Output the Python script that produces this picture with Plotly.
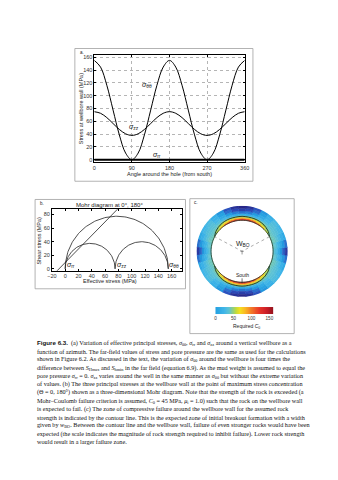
import numpy as np
import plotly.graph_objects as go

W, H = 338, 480
def fx(x): return x / W
def fy(y): return 1 - y / H

SANS = "Liberation Sans, Arial, sans-serif"
SERIF = "Liberation Serif, Times New Roman, serif"

# ---------------- Panel a: stresses around the wellbore wall ----------------
angle_deg = [0, 15, 30, 45, 60, 75, 90, 105, 120, 135, 150, 165, 180,
             195, 210, 225, 240, 255, 270, 285, 300, 315, 330, 345, 360]
sigma_tt = [155, 144.6, 116.3, 77.5, 38.8, 10.4, 0, 10.4, 38.8, 77.5, 116.3, 144.6, 155,
            144.6, 116.3, 77.5, 38.8, 10.4, 0, 10.4, 38.8, 77.5, 116.3, 144.6, 155]
sigma_zz = [75, 72.5, 65.8, 56.5, 47.3, 40.5, 38, 40.5, 47.3, 56.5, 65.8, 72.5, 75,
            72.5, 65.8, 56.5, 47.3, 40.5, 38, 40.5, 47.3, 56.5, 65.8, 72.5, 75]
sigma_rr = [0, 0, 0, 0, 0, 0, 0, 0, 0, 0, 0, 0, 0,
            0, 0, 0, 0, 0, 0, 0, 0, 0, 0, 0, 0]
a_xticks = [0, 90, 180, 270, 360]

# ---------------- Panel b: Mohr diagram at 0, 180 deg ----------------
mohr_principal = [0.0, 75.0, 155.0]        # sigma_rr, sigma_zz, sigma_tt
mohr_pairs = [(0, 1), (1, 2), (0, 2)]
mc_sigma = [-13.0, 80.0]                    # Mohr-Coulomb failure line
mc_tau = [-3.7, 89.3]

# ---------------- Panel c: required C0 around the hole ----------------
ring_edges = [1.00, 1.03, 1.06, 1.10, 1.15, 1.22, 1.30, 1.39, 1.47]
quarter_angles = [0, 10, 20, 30, 40, 50, 60, 70, 80, 90]   # from south
c0_rings = [
    [150, 146, 134, 114, 88, 62, 45, 42, 40, 38],
    [118, 114, 104, 88, 70, 52, 42, 41, 40, 37],
    [82, 80, 75, 66, 56, 45, 40, 41, 38, 34],
    [50, 50, 49, 47, 44, 40, 39, 40, 34, 27],
    [16, 18, 22, 28, 34, 37, 37, 37, 26, 15],
    [-15, -11, -1, 13, 27, 35, 34, 30, 14, -2],
    [-37, -31, -17, 3, 21, 32, 29, 21, -2, -22],
    [-52, -45, -27, -3, 17, 28, 24, 11, -16, -41],
]
contour_south_theta = [-62, -56, -50, -40, -30, -20, 0, 20, 30, 40, 50, 56, 62]
contour_north_theta = [118, 124, 130, 140, 150, 160, 180, 200, 210, 220, 230, 236, 242]
contour_r = [1.0, 1.04, 1.07, 1.10, 1.115, 1.12, 1.125, 1.12, 1.115, 1.10, 1.07, 1.04, 1.0]
wbo_theta = [118, 0, 242]
wbo_r = [1.0, 0.0, 1.0]
cbar_ticks = [0, 50, 100, 150]

c_min, c_max = -55, 162
cs_stops = [(-55, "rgb(40,35,130)"), (-30, "rgb(45,75,185)"), (-10, "rgb(40,130,215)"),
            (0, "rgb(35,160,225)"), (25, "rgb(65,182,232)"), (38, "rgb(95,195,210)"),
            (47, "rgb(135,205,140)"), (57, "rgb(190,218,60)"), (68, "rgb(245,225,30)"),
            (84, "rgb(250,180,35)"), (102, "rgb(242,115,40)"), (122, "rgb(232,55,40)"),
            (142, "rgb(205,30,38)"), (162, "rgb(145,18,30)")]
colorscale = [[(v - c_min) / (c_max - c_min), c] for v, c in cs_stops]

fig = go.Figure()

# ---- panel a traces
fig.add_trace(go.Scatter(x=angle_deg, y=sigma_tt, mode="lines", line=dict(color="black", width=1, shape="spline"),
                         xaxis="x", yaxis="y", showlegend=False, hoverinfo="skip"))
fig.add_trace(go.Scatter(x=angle_deg, y=sigma_zz, mode="lines", line=dict(color="black", width=1, shape="spline"),
                         xaxis="x", yaxis="y", showlegend=False, hoverinfo="skip"))
fig.add_trace(go.Scatter(x=angle_deg, y=sigma_rr, mode="lines", line=dict(color="black", width=1.8),
                         xaxis="x", yaxis="y", showlegend=False, hoverinfo="skip"))

# ---- panel b traces (Mohr semicircles from principal stresses)
t = np.linspace(0, np.pi, 121)
for i, j in mohr_pairs:
    c = (mohr_principal[i] + mohr_principal[j]) / 2
    rad = (mohr_principal[j] - mohr_principal[i]) / 2
    fig.add_trace(go.Scatter(x=c + rad * np.cos(t), y=rad * np.sin(t), mode="lines",
                             line=dict(color="#222", width=0.8), xaxis="x2", yaxis="y2",
                             showlegend=False, hoverinfo="skip"))
fig.add_trace(go.Scatter(x=mc_sigma, y=mc_tau, mode="lines", line=dict(color="#222", width=0.8),
                         xaxis="x2", yaxis="y2", showlegend=False, hoverinfo="skip"))

# ---- panel c traces
full_angles = list(range(0, 360, 10))
for k, q in enumerate(c0_rings):
    h = q + q[-2::-1]
    full = h + h[-2:0:-1]
    fig.add_trace(go.Barpolar(
        theta=full_angles, r=[ring_edges[k + 1] - ring_edges[k]] * len(full_angles),
        base=ring_edges[k], width=10,
        marker=dict(color=full, colorscale=colorscale, cmin=c_min, cmax=c_max,
                    line=dict(color=full, colorscale=colorscale, cmin=c_min, cmax=c_max, width=0.5)),
        subplot="polar", showlegend=False, hoverinfo="skip"))
wall_theta = np.arange(0, 361, 3)
fig.add_trace(go.Scatterpolar(r=np.ones_like(wall_theta, dtype=float), theta=wall_theta, mode="lines",
                              line=dict(color="#1f3320", width=0.8), subplot="polar",
                              showlegend=False, hoverinfo="skip"))
for th in (contour_south_theta, contour_north_theta):
    fig.add_trace(go.Scatterpolar(r=contour_r, theta=th, mode="lines",
                                  line=dict(color="#1f3320", width=0.9, shape="spline"),
                                  subplot="polar", showlegend=False, hoverinfo="skip"))
fig.add_trace(go.Scatterpolar(r=wbo_r, theta=wbo_theta, mode="lines",
                              line=dict(color="#888", width=0.7, dash="dot"),
                              subplot="polar", showlegend=False, hoverinfo="skip"))

# colour bar drawn as a heatmap ramp
cbar_levels = np.arange(0, 162, 1)
fig.add_trace(go.Heatmap(x=cbar_levels, y=[0], z=[cbar_levels], colorscale=colorscale,
                         zmin=c_min, zmax=c_max, showscale=False, xaxis="x3", yaxis="y3",
                         hoverinfo="skip"))

tickfont = dict(family=SANS, size=5.5, color="#333")
axis_common = dict(showline=True, linecolor="black", linewidth=0.7, mirror="ticks",
                   ticks="inside", ticklen=2, tickwidth=0.6, tickcolor="black",
                   tickfont=tickfont, zeroline=False)

fig.update_layout(
    width=W, height=H, margin=dict(l=0, r=0, t=0, b=0),
    paper_bgcolor="white", plot_bgcolor="white",
    xaxis=dict(domain=[fx(92), fx(247)], range=[0, 360], tickvals=a_xticks, anchor="y",
               showgrid=True, gridcolor="#b5b5b5", griddash="dot", gridwidth=0.6, **axis_common),
    yaxis=dict(domain=[fy(162), fy(54.5)], range=[-4, 163], dtick=20, anchor="x",
               showgrid=True, gridcolor="#b5b5b5", griddash="dot", gridwidth=0.6, **axis_common),
    xaxis2=dict(domain=[fx(48.3), fx(182)], range=[-20, 175], dtick=20, anchor="y2",
                showgrid=False, **axis_common),
    yaxis2=dict(domain=[fy(271), fy(209)], range=[-3, 88], dtick=20, anchor="x2",
                showgrid=False, **axis_common),
    xaxis3=dict(domain=[fx(216.7), fx(276.7)], range=[-0.5, 161.5], tickvals=cbar_ticks, anchor="y3",
                ticks="", tickfont=dict(family=SANS, size=4.6, color="#333"),
                showline=False, showgrid=False, zeroline=False),
    yaxis3=dict(domain=[fy(314.7), fy(307.3)], range=[-0.5, 0.5], anchor="x3",
                showticklabels=False, ticks="", showgrid=False, zeroline=False, showline=False),
    polar=dict(domain=dict(x=[fx(244.3 - 47), fx(244.3 + 47)], y=[fy(251.3 + 47), fy(251.3 - 47)]),
               bgcolor="rgba(0,0,0,0)", bargap=0, barmode="overlay", hole=0,
               radialaxis=dict(range=[0, 1.47], visible=False),
               angularaxis=dict(rotation=-90, direction="counterclockwise", visible=False,
                                showgrid=False, showline=False)),
)

gray = "#a0a0a0"
shapes = [
    dict(type="rect", xref="paper", yref="paper", x0=fx(72), y0=fy(181), x1=fx(255.5), y1=fy(47.7),
         line=dict(color=gray, width=0.8)),
    dict(type="rect", xref="paper", yref="paper", x0=fx(31), y0=fy(289), x1=fx(186), y1=fy(199.3),
         line=dict(color=gray, width=0.8)),
    dict(type="rect", xref="paper", yref="paper", x0=fx(190.5), y0=fy(334), x1=fx(298), y1=fy(198.5),
         line=dict(color=gray, width=0.8)),
    # centre mark and south mark in panel c
    dict(type="line", xref="paper", yref="paper", x0=fx(242.5), y0=fy(251.3), x1=fx(246.1), y1=fy(251.3),
         line=dict(color="#555", width=0.6)),
    dict(type="line", xref="paper", yref="paper", x0=fx(244.3), y0=fy(251.3), x1=fx(244.3), y1=fy(254.5),
         line=dict(color="#555", width=0.6)),
    dict(type="line", xref="paper", yref="paper", x0=fx(244.3), y0=fy(278.5), x1=fx(244.3), y1=fy(283.3),
         line=dict(color="#333", width=0.7)),
]
fig.update_layout(shapes=shapes)

ann = []
def A(text, x, y, size=5.5, xanchor="center", yanchor="middle", angle=0, family=SANS, color="#222"):
    ann.append(dict(text=text, x=fx(x), y=fy(y), xref="paper", yref="paper", showarrow=False,
                    xanchor=xanchor, yanchor=yanchor, textangle=angle,
                    font=dict(family=family, size=size, color=color)))

def D(text, x, y, xr, yr, size=7):
    ann.append(dict(text=text, x=x, y=y, xref=xr, yref=yr, showarrow=False,
                    font=dict(family=SANS, size=size, color="#222")))

# panel labels
A("a.", 75.5, 51.5, size=4.5, xanchor="left")
A("b.", 33.5, 203, size=4.5, xanchor="left")
A("c.", 193, 202, size=4.5, xanchor="left")
# axis titles
A("Stress at wellbore wall (MPa)", 78, 108, size=5.5, angle=-90)
A("Angle around the hole (from south)", 170, 173.5, size=5.5)
A("Mohr diagram at 0°, 180°", 108, 205, size=6)
A("Shear stress (MPa)", 35.5, 240, size=5.5, angle=-90)
A("Effective stress (MPa)", 108, 281.5, size=5.5)
A("Required <i>C</i><sub>0</sub>", 249, 327, size=5)
A("South", 244.3, 275, size=5)
A("W<sub>BO</sub>", 245, 244, size=7)

# series labels
D("<i>σ</i><sub>θθ</sub>", 127, 116, "x", "y")
D("<i>σ</i><sub>zz</sub>", 96, 51, "x", "y")
D("<i>σ</i><sub>rr</sub>", 151, 7, "x", "y")
D("<i>σ</i><sub>rr</sub>", 9, 6, "x2", "y2")
D("<i>σ</i><sub>zz</sub>", 85, 6, "x2", "y2")
D("<i>σ</i><sub>θθ</sub>", 163, 6, "x2", "y2")

# caption
caption = [
    "<b><span style=\"font-family:Liberation Sans\">Figure 6.3.</span></b>  (a) Variation of effective principal stresses, <i>σ</i><sub>θθ</sub>, <i>σ</i><sub>rr</sub> and <i>σ</i><sub>zz</sub> around a vertical wellbore as a",
    "function of azimuth. The far-field values of stress and pore pressure are the same as used for the calculations",
    "shown in Figure 6.2. As discussed in the text, the variation of <i>σ</i><sub>θθ</sub> around the wellbore is four times the",
    "difference between <i>S</i><sub>Hmax</sub> and <i>S</i><sub>hmin</sub> in the far field (equation 6.9). As the mud weight is assumed to equal the",
    "pore pressure <i>σ</i><sub>rr</sub> = 0. <i>σ</i><sub>zz</sub> varies around the well in the same manner as <i>σ</i><sub>θθ</sub> but without the extreme variation",
    "of values. (b) The three principal stresses at the wellbore wall at the point of maximum stress concentration",
    "(Θ = 0, 180°) shown as a three-dimensional Mohr diagram. Note that the strength of the rock is exceeded (a",
    "Mohr–Coulomb failure criterion is assumed, <i>C</i><sub>0</sub> = 45 MPa, <i>μ</i><sub>i</sub> = 1.0) such that the rock on the wellbore wall",
    "is expected to fail. (c) The zone of compressive failure around the wellbore wall for the assumed rock",
    "strength is indicated by the contour line. This is the expected zone of initial breakout formation with a width",
    "given by <i>w</i><sub>BO</sub>. Between the contour line and the wellbore wall, failure of even stronger rocks would have been",
    "expected (the scale indicates the magnitude of rock strength required to inhibit failure). Lower rock strength",
    "would result in a larger failure zone.",
]
for i, line in enumerate(caption):
    A(line, 30.7, 343.3 + i * 8.28, size=6.2, xanchor="left", family=SERIF, color="#111")

fig.update_layout(annotations=ann)
fig.write_html("out.html")
